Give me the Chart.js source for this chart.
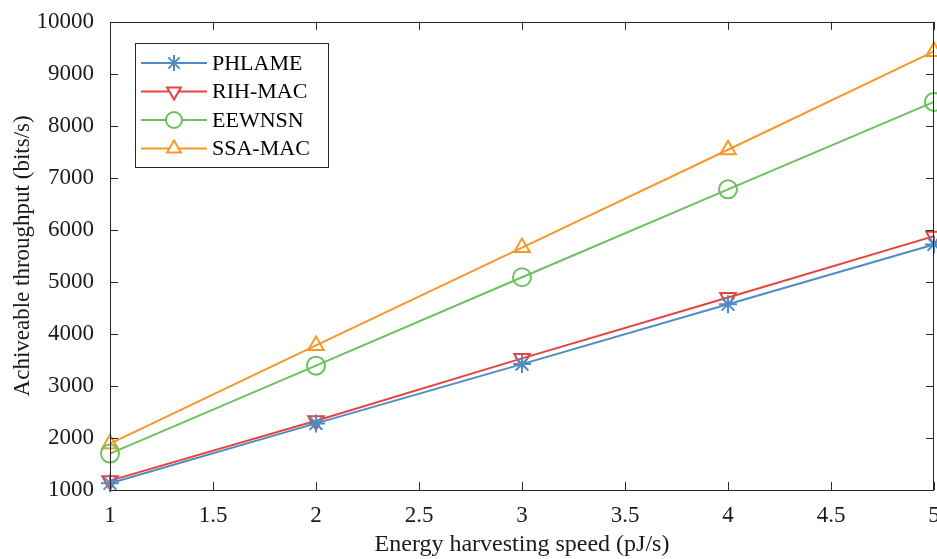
<!DOCTYPE html>
<html>
<head>
<meta charset="utf-8">
<script src="https://cdn.jsdelivr.net/npm/chart.js@4.4.1/dist/chart.umd.min.js"></script>
<style>
  html, body { margin: 0; padding: 0; background: #fff; }
  #wrap { width: 937px; height: 559px; }
</style>
</head>
<body>
<div id="wrap"><canvas id="c" width="937" height="559"></canvas></div>
<script>
// energy harvesting speed (pJ/s)
const speeds = [1, 2, 3, 4, 5];
const xTicks = [1, 1.5, 2, 2.5, 3, 3.5, 4, 4.5, 5];
const yTicks = [1000, 2000, 3000, 4000, 5000, 6000, 7000, 8000, 9000, 10000];

// throughput (bits/s)
const phlame = [1130, 2280, 3420, 4570, 5720];
const rihMac = [1180, 2330, 3530, 4700, 5880];
const eewnsn = [1700, 3390, 5090, 6780, 8460];
const ssaMac = [1890, 3780, 5660, 7540, 9430];

const FONT = "'Liberation Serif', 'Times New Roman', serif";
const AXIS = "#262626";

function pts(arr) {
  return arr.map((v, i) => ({ x: speeds[i], y: v }));
}

const series = [
  { label: "PHLAME", data: phlame, color: "#4f8cc4", style: "star", rot: 0 },
  { label: "RIH-MAC", data: rihMac, color: "#e8423f", style: "triangle", rot: 180 },
  { label: "EEWNSN", data: eewnsn, color: "#6cc060", style: "circle", rot: 0 },
  { label: "SSA-MAC", data: ssaMac, color: "#f8972a", style: "triangle", rot: 0 }
];

// box, inward ticks, x tick labels and legend drawn like the MATLAB figure
const frame = {
  id: "frame",
  afterDraw(chart) {
    const { ctx, chartArea: a, scales } = chart;
    const xs = scales.x, ys = scales.y;
    ctx.save();
    ctx.strokeStyle = AXIS;
    ctx.lineWidth = 1;
    ctx.beginPath();
    const tl = 8;
    xTicks.forEach(t => {
      const px = Math.round(xs.getPixelForValue(t)) + 0.5;
      ctx.moveTo(px, a.bottom); ctx.lineTo(px, a.bottom - tl);
      ctx.moveTo(px, a.top); ctx.lineTo(px, a.top + tl);
    });
    yTicks.forEach(t => {
      const py = Math.round(ys.getPixelForValue(t)) + 0.5;
      ctx.moveTo(a.left, py); ctx.lineTo(a.left + tl, py);
      ctx.moveTo(a.right, py); ctx.lineTo(a.right - tl, py);
    });
    ctx.stroke();
    ctx.strokeRect(Math.round(a.left) + 0.5, Math.round(a.top) + 0.5,
                   Math.round(a.right - a.left) - 1, Math.round(a.bottom - a.top));

    // x tick labels
    ctx.fillStyle = "#1a1a1a";
    ctx.font = "23px " + FONT;
    ctx.textAlign = "center";
    ctx.textBaseline = "top";
    xTicks.forEach(t => {
      ctx.fillText(String(t), xs.getPixelForValue(t), a.bottom + 14);
    });

    // legend
    const lx = 135, ly = 43, lw = 193, lh = 124;
    ctx.fillStyle = "#fff";
    ctx.fillRect(lx, ly, lw, lh);
    ctx.strokeStyle = AXIS;
    ctx.strokeRect(lx + 0.5, ly + 0.5, lw, lh);
    ctx.font = "22px " + FONT;
    ctx.textAlign = "left";
    ctx.textBaseline = "middle";
    series.forEach((s, i) => {
      const y = ly + 20 + i * 28.5;
      ctx.strokeStyle = s.color;
      ctx.lineWidth = 2;
      ctx.beginPath();
      ctx.moveTo(lx + 6, y); ctx.lineTo(lx + 72, y);
      ctx.stroke();
      ctx.fillStyle = "#fff";
      Chart.helpers.drawPoint(ctx, {
        pointStyle: s.style, radius: 8, rotation: s.rot, borderWidth: 2
      }, lx + 39, y);
      ctx.fillStyle = "#000";
      ctx.fillText(s.label, lx + 77, y + 1);
    });
    ctx.restore();
  }
};

new Chart(document.getElementById("c"), {
  type: "line",
  data: {
    datasets: series.map(s => ({
      label: s.label,
      data: pts(s.data),
      borderColor: s.color,
      backgroundColor: "rgba(255,255,255,0)",
      borderWidth: 2,
      pointStyle: s.style,
      pointRotation: s.rot,
      pointRadius: 9,
      pointBorderWidth: 2,
      pointBackgroundColor: "rgba(255,255,255,0)",
      tension: 0,
      clip: false
    }))
  },
  options: {
    responsive: false,
    animation: false,
    layout: { autoPadding: false, padding: { top: 20, right: 3, left: 0, bottom: 0 } },
    plugins: { legend: { display: false }, tooltip: { enabled: false } },
    scales: {
      x: {
        type: "linear",
        min: 1, max: 5,
        afterBuildTicks: sc => { sc.ticks = xTicks.map(v => ({ value: v })); },
        afterFit: sc => { sc.height = 69; },
        grid: { display: false },
        border: { display: false },
        ticks: { display: false },
        title: { display: true, text: "Energy harvesting speed (pJ/s)", color: "#1a1a1a",
                 font: { family: FONT, size: 24 }, padding: { top: 0, bottom: 0 } }
      },
      y: {
        min: 1000, max: 10000,
        afterBuildTicks: sc => { sc.ticks = yTicks.map(v => ({ value: v })); },
        afterFit: sc => { sc.width = 110; },
        grid: { display: false },
        border: { display: false },
        ticks: { color: "#1a1a1a", font: { family: FONT, size: 23 }, padding: 8,
                 callback: v => String(v) },
        title: { display: true, text: "Achiveable throughput (bits/s)", color: "#1a1a1a",
                 font: { family: FONT, size: 23 }, padding: { top: 9, bottom: 0 } }
      }
    }
  },
  plugins: [frame]
});
</script>
</body>
</html>
